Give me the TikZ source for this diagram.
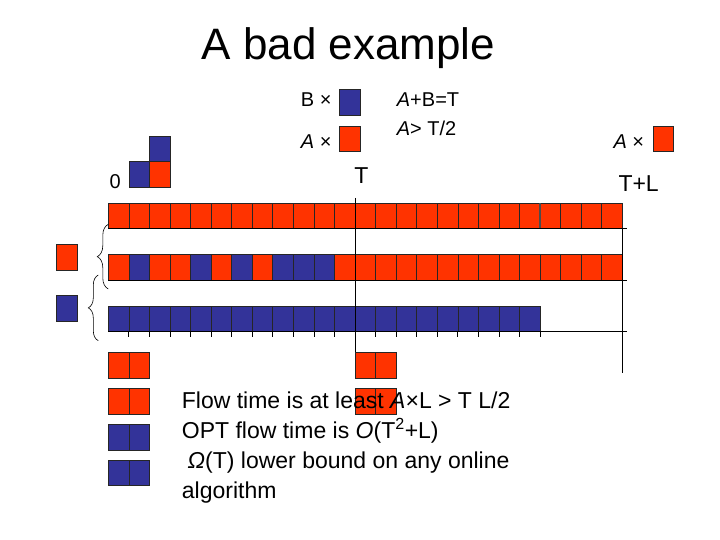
\documentclass[tikz,border=0pt]{standalone}
\usepackage{fontspec}
\setmainfont{Liberation Sans}
\newfontfamily\titlefont{Liberation Sans}
\usetikzlibrary{decorations.pathreplacing}
\definecolor{jobred}{RGB}{255,51,0}
\definecolor{jobblue}{RGB}{51,51,153}
\begin{document}
\begin{tikzpicture}[x=1pt,y=-1pt,
  cell/.style={draw=black!85,line width=0.6pt},
  redcell/.style={cell,fill=jobred},
  bluecell/.style={cell,fill=jobblue},
  axis/.style={draw=black,line width=0.8pt},
  bracestyle/.style={draw=black,line width=0.6pt,decorate},
  lbl/.style={inner sep=0pt,anchor=base west,font=\fontsize{20}{24}\selectfont},
  body/.style={inner sep=0pt,anchor=base west,font=\fontsize{23}{30}\selectfont}]
\useasboundingbox (0,0) rectangle (720,540);
\def\sqw{20.56}
\def\xo{108.3}
% title
\node[inner sep=0pt,anchor=base,font=\titlefont\fontsize{44}{50}\selectfont] (title) at (348.5,60) {A bad example};
% top-left stack
\node[lbl] (zero) at (109.3,188.3) {0};
\filldraw[bluecell] ({\xo+2*\sqw},136) rectangle ++(\sqw,25.5);
\filldraw[bluecell] ({\xo+\sqw},161.5) rectangle ++(\sqw,25.5);
\filldraw[redcell] ({\xo+2*\sqw},161.5) rectangle ++(\sqw,25.5);
% legend
\node[lbl] (bx) at (300.7,106.7) {B ×};
\filldraw[bluecell] (339.3,89.3) rectangle (360,115);
\node[lbl] (ax) at (300.7,148.3) {\textit{A} ×};
\filldraw[redcell] (339.3,126.7) rectangle (360,151.7);
\node[lbl] (eq1) at (396.7,106.7) {\textit{A}+B=T};
\node[lbl] (eq2) at (396.7,136) {\textit{A}> T/2};
\node[lbl] (axr) at (613.3,148.3) {\textit{A} ×};
\filldraw[redcell] (653.3,126.7) rectangle (673.3,151.7);
\node[inner sep=0pt,anchor=base,font=\fontsize{23}{26}\selectfont] (tlab) at (361.5,184) {T};
\node[inner sep=0pt,anchor=base west,font=\fontsize{23}{26}\selectfont] (tllab) at (618.3,191.7) {T+L};
% row 1
\foreach \i in {0,...,24}
  \filldraw[redcell] ({\xo+\i*\sqw},203.3) rectangle ++(\sqw,25);
\draw[line width=1.4pt,black!70] ({\xo+21*\sqw},203.3) -- ({\xo+21*\sqw},228.3);
% row 2
\foreach \c [count=\i from 0] in {jobred,jobblue,jobred,jobred,jobblue,jobred,jobblue,jobred,jobblue,jobblue,jobblue}
  \filldraw[cell,fill=\c] ({\xo+\i*\sqw},254.3) rectangle ++(\sqw,26);
\foreach \i in {11,...,24}
  \filldraw[redcell] ({\xo+\i*\sqw},254.3) rectangle ++(\sqw,26);
% row 3
\foreach \i in {0,...,20}
  \filldraw[bluecell] ({\xo+\i*\sqw},306) rectangle ++(\sqw,25.3);
\foreach \i in {1,...,21}
  \draw[axis] ({\xo+\i*\sqw},331.3) -- ({\xo+\i*\sqw},337);
% axis lines
\coordinate (r1a) at (\xo,228.3); \coordinate (r1b) at (627,228.3);
\coordinate (r2a) at (\xo,280.3); \coordinate (r2b) at (627,280.3);
\coordinate (r3a) at (\xo,331.3); \coordinate (r3b) at (627,331.3);
\draw[axis] (r1a) -- (r1b);
\draw[axis] (r2a) -- (r2b);
\draw[axis] (r3a) -- (r3b);
\coordinate (ttop) at ({\xo+12*\sqw},198); \coordinate (tbot) at ({\xo+12*\sqw},352.3);
\draw[axis] (ttop) -- (tbot);
\coordinate (tltop) at ({\xo+25*\sqw},228.3); \coordinate (tlbot) at ({\xo+25*\sqw},372.7);
\draw[axis] (tltop) -- (tlbot);
% left legend squares and braces
\filldraw[redcell] (56.3,244.3) rectangle (77.3,270);
\filldraw[bluecell] (56.3,295.5) rectangle (77.3,321.5);
\coordinate (b1a) at (108.3,289); \coordinate (b1b) at (108.3,224.3);
\coordinate (b2a) at (98.3,340.7); \coordinate (b2b) at (98.3,275);
\draw[bracestyle,decoration={brace,amplitude=11pt}] (b1a) -- (b1b);
\draw[bracestyle,decoration={brace,amplitude=10pt}] (b2a) -- (b2b);
% bottom pairs
\foreach \y/\c in {352.3/jobred,388.3/jobred,424.3/jobblue,460/jobblue}{
  \filldraw[cell,fill=\c] (\xo,\y) rectangle ++(\sqw,25.5);
  \filldraw[cell,fill=\c] ({\xo+\sqw},\y) rectangle ++(\sqw,25.5);
}
\foreach \y in {352.3,388.3}{
  \filldraw[redcell] ({\xo+12*\sqw},\y) rectangle ++(\sqw,25.5);
  \filldraw[redcell] ({\xo+13*\sqw},\y) rectangle ++(\sqw,25.5);
}
% body text
\node[body] (l1) at (181.7,408.3) {Flow time is at least \textit{A}×L > T L/2};
\node[body] (l2) at (181.7,438.3) {OPT flow time is \textit{O}(T\textsuperscript{2}+L)};
\node[body] (l3) at (187.5,468.3) {\textit{Ω}(T) lower bound on any online};
\node[body] (l4) at (181.7,498.3) {algorithm};
\end{tikzpicture}
\end{document}
